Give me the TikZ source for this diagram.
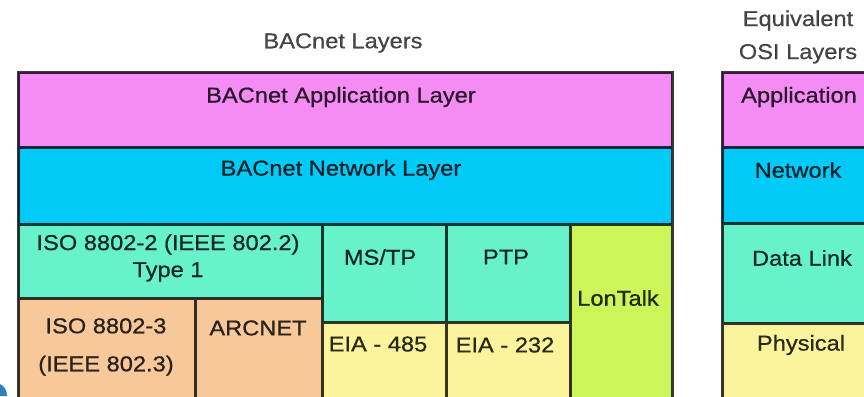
\documentclass[tikz,border=0pt]{standalone}
\usepackage{fontspec}
\setmainfont{Liberation Sans}[FakeStretch=1.1, FakeBold=0.6]
\newfontfamily\headfont{Liberation Sans}[FakeStretch=1.1, FakeBold=0.3]
\definecolor{appPink}{HTML}{F58BF4}
\definecolor{netCyan}{HTML}{00CAF8}
\definecolor{linkMint}{HTML}{68F2CC}
\definecolor{ethPeach}{HTML}{F6C89A}
\definecolor{phyYellow}{HTML}{FBF49C}
\definecolor{lonLime}{HTML}{CCF55A}
\definecolor{cornerBlue}{HTML}{2F7FC0}
\tikzset{
  grid/.style={draw=black, draw opacity=0.78, line width=3pt},
  lbl/.style={inner sep=0pt, text=black, text opacity=0.82,
    font=\fontsize{21.5}{27}\selectfont, align=center},
  title/.style={lbl, text opacity=0.72, font=\headfont\fontsize{21.5}{27}\selectfont}
}
\begin{document}
\begin{tikzpicture}[x=1pt, y=-1pt]
\clip (0,0) rectangle (864,396);
\fill[white] (0,0) rectangle (864,396);

% BACnet stack: cell backgrounds
\fill[appPink]   (18,72)   rectangle (672,147);
\fill[netCyan]   (18,147)  rectangle (672,224);
\fill[linkMint]  (18,224)  rectangle (322,298);
\fill[ethPeach]  (18,298)  rectangle (195,410);
\fill[ethPeach]  (195,298) rectangle (322,410);
\fill[linkMint]  (322,224) rectangle (446,322);
\fill[linkMint]  (446,224) rectangle (570,322);
\fill[phyYellow] (322,322) rectangle (446,410);
\fill[phyYellow] (446,322) rectangle (570,410);
\fill[lonLime]   (570,224) rectangle (672,410);

% OSI stack: cell backgrounds
\fill[appPink]   (722,72)  rectangle (900,147);
\fill[netCyan]   (722,147) rectangle (900,223);
\fill[linkMint]  (722,223) rectangle (900,323);
\fill[phyYellow] (722,323) rectangle (900,410);

% all cell borders in one stroke
\path[grid]
  (18,72) rectangle (672,410)
  (18,147) -- (672,147)
  (18,224) -- (672,224)
  (18,298) -- (322,298)
  (195,298) -- (195,410)
  (322,224) -- (322,410)
  (322,322) -- (570,322)
  (446,224) -- (446,410)
  (570,224) -- (570,410)
  (722,72) rectangle (900,410)
  (722,147) -- (900,147)
  (722,223) -- (900,223)
  (722,323) -- (900,323);

% edge of a neighbouring graphic in the lower left corner
\fill[cornerBlue] (0,384) .. controls (4,386) and (7,390) .. (7,396) -- (0,396) -- cycle;

% headings
\node[title] (bacTitle) at (343,43) {BACnet Layers};
\node[title, font=\headfont\fontsize{21.5}{33}\selectfont] (osiTitle) at (798,37) {Equivalent\\OSI Layers};

% BACnet stack labels
\node[lbl] (appT)   at (341,97)  {BACnet Application Layer};
\node[lbl] (netT)   at (341,170) {BACnet Network Layer};
\node[lbl] (llcT)   at (168,258) {ISO 8802-2 (IEEE 802.2)\\Type 1};
\node[lbl, font=\fontsize{21.5}{38}\selectfont] (ethT) at (106,347) {ISO 8802-3\\(IEEE 802.3)};
\node[lbl] (arcT)   at (258,328) {ARCNET};
\node[lbl] (mstpT)  at (380,257) {MS/TP};
\node[lbl] (ptpT)   at (506,257) {PTP};
\node[lbl] (e485T)  at (378,344) {EIA - 485};
\node[lbl] (e232T)  at (505,345) {EIA - 232};
\node[lbl] (lonT)   at (618,298) {LonTalk};

% OSI stack labels
\node[lbl] (osiAppT)  at (799,97)  {Application};
\node[lbl] (osiNetT)  at (798,170) {Network};
\node[lbl] (osiLinkT) at (802,258) {Data Link};
\node[lbl] (osiPhyT)  at (801,345) {Physical};
\end{tikzpicture}
\end{document}
